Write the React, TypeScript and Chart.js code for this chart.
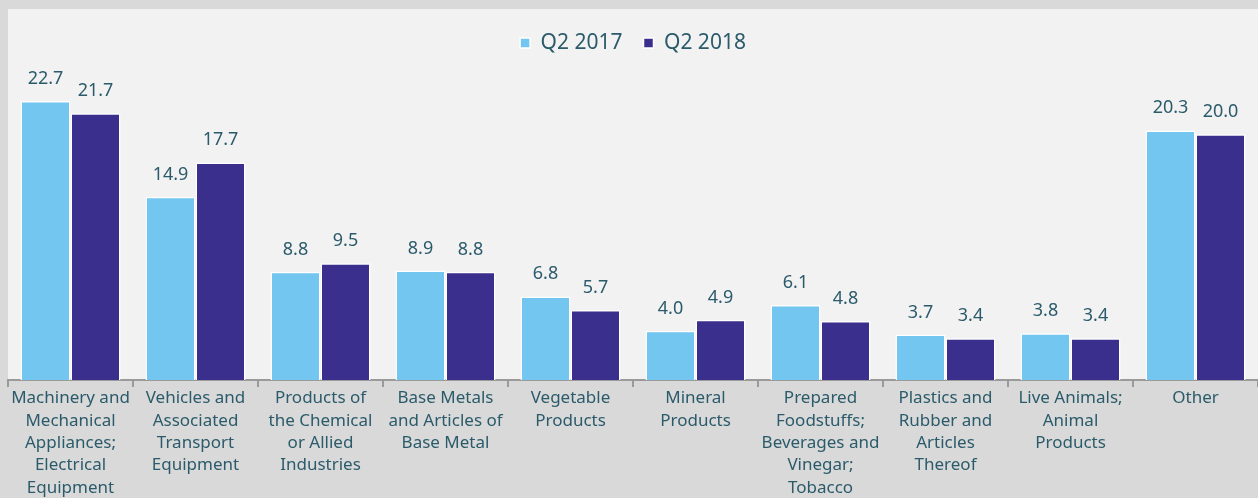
import React, { useEffect, useRef } from "react";
import { Chart, registerables } from "chart.js";

Chart.register(...registerables);

const categories: string[][] = [
  ["Machinery and", "Mechanical", "Appliances;", "Electrical", "Equipment"],
  ["Vehicles and", "Associated", "Transport", "Equipment"],
  ["Products of", "the Chemical", "or Allied", "Industries"],
  ["Base Metals", "and Articles of", "Base Metal"],
  ["Vegetable", "Products"],
  ["Mineral", "Products"],
  ["Prepared", "Foodstuffs;", "Beverages and", "Vinegar;", "Tobacco"],
  ["Plastics and", "Rubber and", "Articles", "Thereof"],
  ["Live Animals;", "Animal", "Products"],
  ["Other"],
];
const q2017: number[] = [22.7, 14.9, 8.8, 8.9, 6.8, 4.0, 6.1, 3.7, 3.8, 20.3];
const q2018: number[] = [21.7, 17.7, 9.5, 8.8, 5.7, 4.9, 4.8, 3.4, 3.4, 20.0];
const seriesNames: string[] = ["Q2 2017", "Q2 2018"];

const TEXT = "#2b5b6b";
const FONT = "'Noto Sans', sans-serif";

const panelPlugin = {
  id: "panel",
  beforeDraw(chart: any) {
    const { ctx, chartArea } = chart;
    ctx.save();
    ctx.fillStyle = "#f2f2f2";
    ctx.fillRect(8, 9, chart.width - 8, chartArea.bottom - 9);
    ctx.restore();
  },
};

const valueLabels = {
  id: "valueLabels",
  afterDatasetsDraw(chart: any) {
    const { ctx } = chart;
    ctx.save();
    ctx.fillStyle = TEXT;
    ctx.font = `18px ${FONT}`;
    ctx.textAlign = "center";
    ctx.textBaseline = "alphabetic";
    chart.data.datasets.forEach((ds: any, i: number) => {
      const meta = chart.getDatasetMeta(i);
      meta.data.forEach((bar: any, j: number) => {
        ctx.fillText(Number(ds.data[j]).toFixed(1), bar.x, bar.y - 17);
      });
    });
    ctx.restore();
  },
};

export default function App() {
  const ref = useRef<HTMLCanvasElement>(null);
  useEffect(() => {
    document.body.style.margin = "0";
    document.body.style.background = "#d9d9d9";
    const chart = new Chart(ref.current!, {
      type: "bar",
      data: {
        labels: categories as any,
        datasets: [
          {
            label: seriesNames[0],
            data: q2017,
            backgroundColor: "#73c6f0",
            borderColor: "#ffffff",
            borderWidth: 1.5,
            categoryPercentage: 0.8,
            barPercentage: 1.0,
          },
          {
            label: seriesNames[1],
            data: q2018,
            backgroundColor: "#3b2f8e",
            borderColor: "#ffffff",
            borderWidth: 1.5,
            categoryPercentage: 0.8,
            barPercentage: 1.0,
          },
        ],
      },
      options: {
        animation: false,
        responsive: false,
        maintainAspectRatio: false,
        layout: { padding: { left: 8, right: 0, top: 11.5, bottom: 0 } },
        plugins: {
          legend: {
            display: true,
            position: "top",
            labels: {
              color: TEXT,
              font: { family: FONT, size: 21 },
              boxWidth: 10,
              boxHeight: 10,
              padding: 21,
            },
          },
          tooltip: { enabled: false },
        },
        scales: {
          x: {
            offset: true,
            grid: {
              offset: true,
              drawOnChartArea: false,
              drawTicks: true,
              tickLength: 7,
              color: "#9a9a9a",
              lineWidth: 2,
            },
            border: { display: true, color: "#9a9a9a", width: 2 },
            ticks: {
              color: TEXT,
              font: { family: FONT, size: 17, lineHeight: 1.32 },
              padding: 0,
              maxRotation: 0,
              autoSkip: false,
            },
            afterFit(scale: any) {
              scale.height = 118;
            },
          } as any,
          y: {
            display: false,
            min: 0,
            max: 25.75,
          },
        },
      },
      plugins: [panelPlugin, valueLabels],
    } as any);
    return () => chart.destroy();
  }, []);
  return (
    <div style={{ position: "fixed", left: 0, top: 0, width: 1258, height: 498, background: "#d9d9d9" }}>
      <canvas ref={ref} width={1258} height={498} style={{ display: "block" }} />
    </div>
  );
}
